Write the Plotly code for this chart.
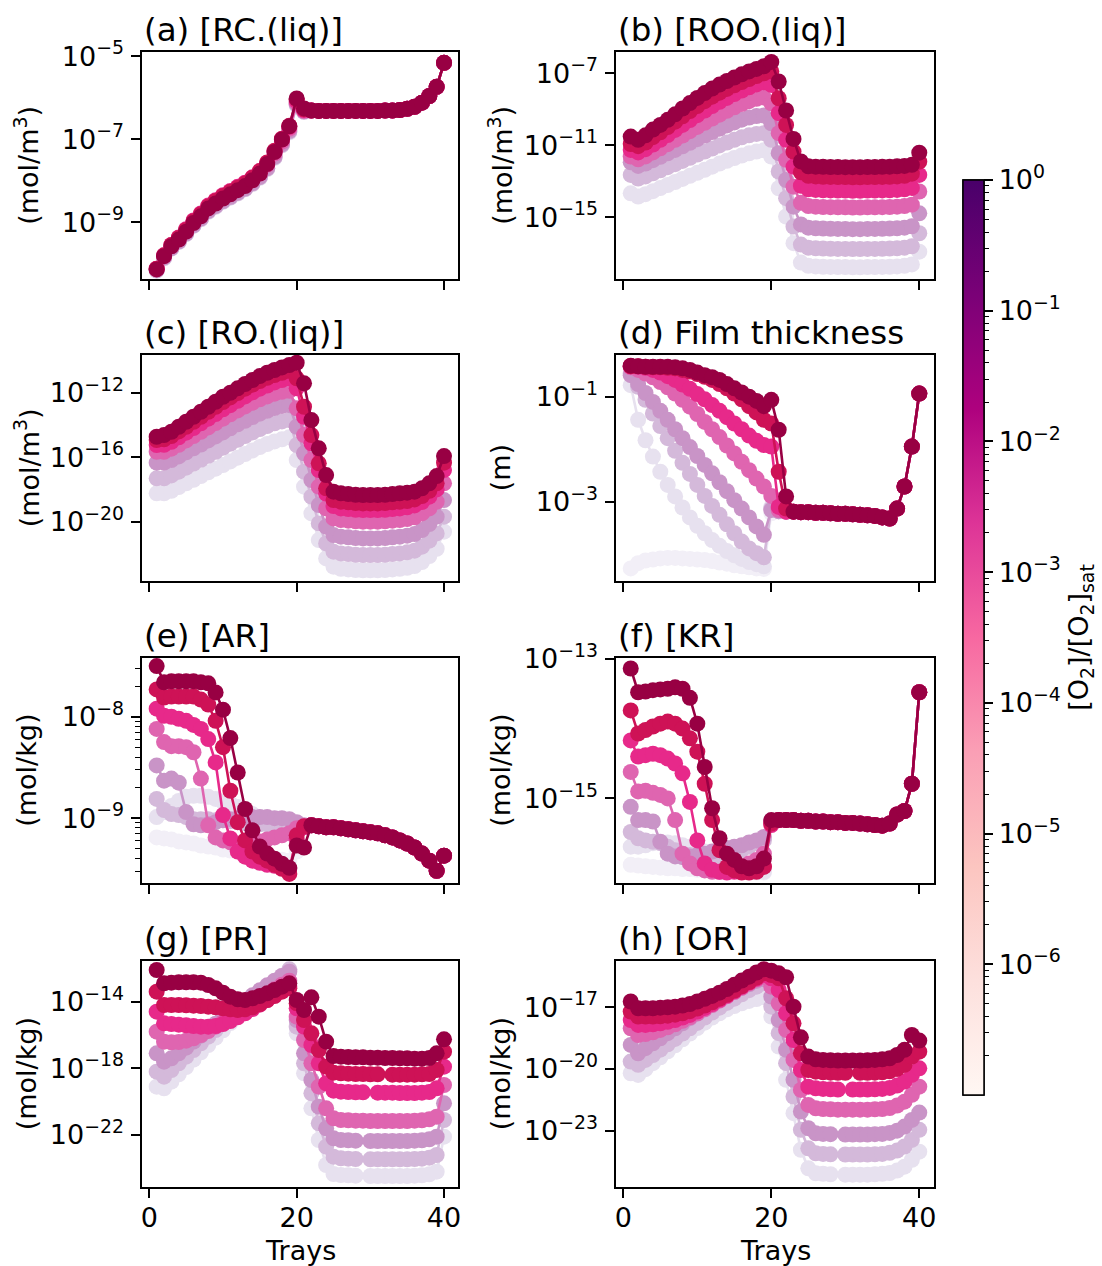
import math
import plotly.graph_objects as go

# ---------------- data (log10 of value), rows ordered [O2]/[O2]sat = 1e-7 ... 1e0 ----------------
TRAYS = list(range(1, 41))
O2_LEVELS = ["1e-7", "1e-6", "1e-5", "1e-4", "1e-3", "1e-2", "1e-1", "1e0"]
LINE_COLORS = ["#f2eff7", "#e7e1ef", "#d4b9da", "#c994c7", "#df65b0", "#e7298a", "#ce1256", "#980043"]

A_TAIL = [-6.31, -6.32, -6.32, -6.32, -6.32, -6.32, -6.32, -6.32, -6.32, -6.32, -6.31, -6.31, -6.30, -6.27, -6.22, -6.12, -5.96, -5.74, -5.16]
RC_LIQ = [
    [-10.17, -9.87, -9.64, -9.48, -9.29, -9.09, -8.93, -8.75, -8.63, -8.51, -8.41, -8.31, -8.21, -8.08, -7.93, -7.72, -7.45, -7.15, -6.84, -6.19, -6.34] + A_TAIL,
    [-10.17, -9.87, -9.64, -9.48, -9.29, -9.09, -8.93, -8.75, -8.63, -8.51, -8.41, -8.31, -8.21, -8.08, -7.93, -7.72, -7.45, -7.15, -6.83, -6.18, -6.34] + A_TAIL,
    [-10.16, -9.86, -9.63, -9.47, -9.28, -9.08, -8.92, -8.74, -8.62, -8.50, -8.40, -8.30, -8.20, -8.07, -7.92, -7.71, -7.44, -7.14, -6.82, -6.17, -6.34] + A_TAIL,
    [-10.15, -9.85, -9.62, -9.46, -9.27, -9.07, -8.91, -8.73, -8.61, -8.49, -8.39, -8.29, -8.19, -8.06, -7.91, -7.70, -7.42, -7.12, -6.80, -6.15, -6.33] + A_TAIL,
    [-10.13, -9.82, -9.58, -9.41, -9.21, -9.00, -8.83, -8.65, -8.53, -8.41, -8.31, -8.21, -8.11, -7.98, -7.83, -7.62, -7.35, -7.06, -6.75, -6.12, -6.32] + A_TAIL,
    [-10.12, -9.80, -9.55, -9.37, -9.17, -8.96, -8.79, -8.60, -8.47, -8.35, -8.25, -8.15, -8.05, -7.92, -7.77, -7.57, -7.30, -7.01, -6.71, -6.08, -6.30] + A_TAIL,
    [-10.12, -9.80, -9.55, -9.38, -9.19, -8.98, -8.81, -8.62, -8.49, -8.37, -8.27, -8.17, -8.07, -7.93, -7.77, -7.56, -7.28, -6.99, -6.68, -6.04, -6.28] + A_TAIL,
    [-10.14, -9.82, -9.58, -9.42, -9.23, -9.02, -8.86, -8.67, -8.55, -8.43, -8.33, -8.23, -8.13, -7.99, -7.83, -7.60, -7.31, -7.01, -6.69, -6.02, -6.26] + A_TAIL,
]

ROO_LIQ = [
    None,
    [-13.67, -13.85, -13.72, -13.55, -13.38, -13.21, -13.04, -12.87, -12.70, -12.53, -12.36, -12.19, -12.02, -11.86, -11.71, -11.57, -11.45, -11.35, -11.28, -11.63,
     -13.39, -14.96, -16.44, -17.52, -17.70, -17.73, -17.75, -17.76, -17.77, -17.77, -17.78, -17.78, -17.77, -17.77, -17.76, -17.75, -17.73, -17.70, -17.62, -16.91],
    [-12.65, -12.85, -12.73, -12.56, -12.39, -12.22, -12.05, -11.87, -11.70, -11.52, -11.35, -11.18, -11.01, -10.85, -10.70, -10.56, -10.45, -10.37, -10.33, -10.70,
     -12.46, -13.94, -15.52, -16.52, -16.69, -16.72, -16.74, -16.75, -16.76, -16.76, -16.77, -16.77, -16.76, -16.76, -16.75, -16.74, -16.72, -16.69, -16.61, -15.89],
    [-11.95, -12.15, -12.02, -11.83, -11.64, -11.45, -11.26, -11.06, -10.86, -10.66, -10.46, -10.27, -10.08, -9.90, -9.73, -9.58, -9.46, -9.38, -9.35, -9.78,
     -11.44, -12.93, -14.41, -15.40, -15.58, -15.61, -15.63, -15.64, -15.65, -15.65, -15.66, -15.66, -15.65, -15.65, -15.64, -15.63, -15.61, -15.58, -15.50, -14.78],
    [-11.63, -11.78, -11.62, -11.40, -11.17, -10.94, -10.70, -10.46, -10.22, -9.98, -9.75, -9.52, -9.30, -9.09, -8.89, -8.71, -8.55, -8.42, -8.35, -8.67,
     -10.33, -11.81, -13.30, -14.20, -14.38, -14.41, -14.43, -14.44, -14.45, -14.45, -14.46, -14.46, -14.45, -14.45, -14.44, -14.43, -14.41, -14.38, -14.30, -13.57],
    [-11.26, -11.40, -11.22, -10.96, -10.70, -10.43, -10.15, -9.87, -9.60, -9.33, -9.07, -8.82, -8.59, -8.37, -8.16, -7.96, -7.78, -7.62, -7.50, -7.65,
     -9.22, -10.70, -12.19, -13.25, -13.45, -13.48, -13.50, -13.51, -13.52, -13.52, -13.53, -13.53, -13.52, -13.52, -13.51, -13.50, -13.48, -13.45, -13.37, -12.65],
    [-10.93, -11.05, -10.85, -10.55, -10.28, -9.99, -9.69, -9.39, -9.10, -8.82, -8.55, -8.30, -8.08, -7.87, -7.67, -7.49, -7.32, -7.16, -7.00, -6.90,
     -8.39, -9.87, -11.35, -12.50, -12.70, -12.73, -12.75, -12.76, -12.77, -12.77, -12.78, -12.78, -12.77, -12.77, -12.76, -12.75, -12.73, -12.70, -12.58, -11.91],
    [-10.52, -10.70, -10.45, -10.13, -9.87, -9.59, -9.28, -8.96, -8.66, -8.37, -8.10, -7.85, -7.63, -7.43, -7.24, -7.06, -6.90, -6.76, -6.61, -6.37,
     -7.46, -9.07, -10.65, -11.90, -12.17, -12.19, -12.20, -12.21, -12.21, -12.22, -12.22, -12.22, -12.21, -12.21, -12.20, -12.19, -12.17, -12.15, -12.09, -11.41],
]

RO_LIQ = [
    None,
    [-18.24, -18.24, -18.08, -17.85, -17.62, -17.40, -17.17, -16.94, -16.71, -16.49, -16.26, -16.03, -15.80, -15.58, -15.37, -15.18, -15.02, -14.89, -14.77, -16.18,
     -17.83, -19.49, -21.14, -22.28, -22.79, -22.92, -22.96, -23.00, -23.02, -23.02, -23.02, -23.00, -22.96, -22.92, -22.86, -22.75, -22.50, -22.13, -21.68, -20.62],
    [-17.31, -17.31, -17.13, -16.90, -16.65, -16.40, -16.16, -15.91, -15.66, -15.41, -15.16, -14.92, -14.69, -14.46, -14.25, -14.07, -13.90, -13.78, -13.70, -15.25,
     -16.90, -18.45, -20.11, -21.35, -21.86, -21.97, -22.01, -22.05, -22.07, -22.07, -22.07, -22.05, -22.01, -21.97, -21.90, -21.80, -21.55, -21.18, -20.73, -19.69],
    [-16.34, -16.34, -16.18, -15.95, -15.70, -15.45, -15.21, -14.96, -14.71, -14.46, -14.21, -13.96, -13.74, -13.51, -13.30, -13.12, -12.95, -12.83, -12.77, -14.11,
     -15.76, -17.42, -18.97, -20.31, -20.83, -20.93, -20.97, -21.02, -21.04, -21.04, -21.04, -21.02, -20.97, -20.93, -20.87, -20.77, -20.52, -20.15, -19.69, -18.66],
    [-15.66, -15.66, -15.47, -15.23, -14.96, -14.69, -14.42, -14.15, -13.88, -13.61, -13.34, -13.10, -12.85, -12.62, -12.41, -12.23, -12.06, -11.94, -11.88, -12.97,
     -14.63, -16.18, -17.83, -19.18, -19.80, -19.90, -19.94, -19.98, -20.00, -20.00, -20.00, -19.98, -19.94, -19.90, -19.84, -19.73, -19.49, -19.18, -18.76, -17.62],
    [-15.25, -15.23, -15.04, -14.77, -14.48, -14.19, -13.90, -13.61, -13.32, -13.03, -12.77, -12.50, -12.23, -11.98, -11.75, -11.55, -11.36, -11.21, -11.11, -11.73,
     -13.49, -15.14, -16.80, -18.25, -19.03, -19.18, -19.22, -19.26, -19.28, -19.28, -19.28, -19.26, -19.22, -19.18, -19.11, -18.99, -18.78, -18.45, -18.00, -16.80],
    [-14.94, -14.89, -14.69, -14.40, -14.11, -13.80, -13.49, -13.18, -12.87, -12.58, -12.29, -12.02, -11.75, -11.50, -11.28, -11.07, -10.90, -10.76, -10.64, -11.11,
     -12.87, -14.63, -16.38, -17.93, -18.66, -18.76, -18.80, -18.84, -18.87, -18.87, -18.87, -18.84, -18.80, -18.76, -18.72, -18.62, -18.41, -18.08, -17.62, -16.34],
    [-14.73, -14.63, -14.42, -14.11, -13.80, -13.49, -13.18, -12.87, -12.56, -12.25, -12.00, -11.73, -11.46, -11.21, -10.97, -10.76, -10.59, -10.43, -10.28, -10.14,
     -11.42, -13.70, -15.45, -17.11, -18.14, -18.24, -18.29, -18.33, -18.35, -18.35, -18.35, -18.33, -18.29, -18.24, -18.20, -18.14, -17.93, -17.62, -17.17, -15.93],
]

D_TAIL = [-3.19, -3.20, -3.20, -3.21, -3.21, -3.22, -3.23, -3.23, -3.24, -3.25, -3.26, -3.27, -3.30, -3.32, -3.13, -2.71, -1.95, -0.94]
FILM = [
    [-4.27, -4.17, -4.12, -4.10, -4.08, -4.07, -4.07, -4.08, -4.09, -4.10, -4.11, -4.13, -4.16, -4.18, -4.21, -4.23, -4.25, -4.27, -4.28, -3.22, -3.19, -3.19] + D_TAIL,
    [-0.78, -1.44, -1.83, -2.14, -2.43, -2.68, -2.90, -3.11, -3.30, -3.46, -3.60, -3.73, -3.84, -3.94, -4.02, -4.09, -4.15, -4.19, -4.23, -3.10, -3.17, -3.19] + D_TAIL,
    [-0.56, -0.81, -1.06, -1.32, -1.56, -1.79, -2.03, -2.26, -2.47, -2.68, -2.89, -3.08, -3.25, -3.43, -3.60, -3.76, -3.89, -3.98, -4.06, -3.13, -3.18, -3.19] + D_TAIL,
    [-0.59, -0.76, -0.93, -1.10, -1.27, -1.44, -1.62, -1.79, -1.96, -2.13, -2.30, -2.46, -2.63, -2.80, -2.97, -3.13, -3.30, -3.47, -3.63, -3.16, -3.18, -3.19] + D_TAIL,
    [-0.44, -0.49, -0.56, -0.63, -0.72, -0.82, -0.94, -1.06, -1.19, -1.33, -1.48, -1.62, -1.77, -1.93, -2.08, -2.24, -2.40, -2.56, -2.71, -2.89, -3.16, -3.19] + D_TAIL,
    [-0.42, -0.43, -0.45, -0.49, -0.54, -0.61, -0.68, -0.77, -0.85, -0.95, -1.05, -1.16, -1.27, -1.39, -1.51, -1.62, -1.74, -1.84, -1.92, -1.95, -3.10, -3.19] + D_TAIL,
    [-0.42, -0.42, -0.43, -0.44, -0.44, -0.45, -0.46, -0.49, -0.52, -0.57, -0.62, -0.68, -0.76, -0.84, -0.94, -1.05, -1.18, -1.30, -1.44, -1.51, -2.43, -3.13] + D_TAIL,
    [-0.41, -0.42, -0.43, -0.43, -0.43, -0.43, -0.44, -0.46, -0.49, -0.54, -0.59, -0.63, -0.68, -0.76, -0.84, -0.92, -1.00, -1.08, -1.18, -1.06, -1.63, -2.90] + D_TAIL,
]

E_TAIL = [-9.07, -9.08, -9.09, -9.09, -9.10, -9.11, -9.12, -9.13, -9.14, -9.15, -9.17, -9.19, -9.22, -9.25, -9.29, -9.35, -9.42, -9.52, -9.37]
AR = [
    [-9.19, -9.20, -9.21, -9.23, -9.24, -9.25, -9.27, -9.28, -9.29, -9.31, -9.32, -9.33, -9.35, -9.36, -9.37, -9.39, -9.40, -9.41, -9.42, -9.33, -9.09] + E_TAIL,
    [-8.99, -8.94, -8.88, -8.83, -8.79, -8.78, -8.78, -8.79, -8.81, -8.84, -8.86, -8.89, -8.92, -8.96, -8.99, -9.02, -9.06, -9.09, -9.12, -9.10, -9.08] + E_TAIL,
    [-8.81, -8.92, -8.96, -8.97, -8.99, -9.01, -9.01, -9.01, -9.02, -9.02, -9.03, -9.04, -9.05, -9.05, -9.06, -9.06, -9.06, -9.07, -9.07, -9.08, -9.08] + E_TAIL,
    [-8.48, -8.63, -8.61, -8.65, -8.94, -9.06, -9.07, -9.06, -9.04, -9.02, -9.01, -9.00, -8.99, -8.99, -8.99, -8.99, -9.00, -9.00, -9.01, -9.04, -9.07] + E_TAIL,
    [-8.12, -8.25, -8.29, -8.29, -8.30, -8.35, -8.61, -9.07, -9.19, -9.22, -9.24, -9.25, -9.25, -9.24, -9.23, -9.21, -9.19, -9.17, -9.15, -9.10, -9.08] + E_TAIL,
    [-7.92, -7.99, -8.00, -8.02, -8.04, -8.08, -8.12, -8.22, -8.45, -8.97, -9.20, -9.33, -9.38, -9.42, -9.44, -9.46, -9.47, -9.48, -9.50, -9.20, -9.09] + E_TAIL,
    [-7.73, -7.81, -7.80, -7.80, -7.80, -7.80, -7.83, -7.88, -8.04, -8.30, -8.73, -9.04, -9.22, -9.33, -9.38, -9.42, -9.46, -9.50, -9.55, -9.17, -9.08] + E_TAIL,
    [-7.50, -7.66, -7.65, -7.65, -7.65, -7.65, -7.66, -7.67, -7.76, -7.93, -8.21, -8.55, -8.91, -9.12, -9.28, -9.35, -9.40, -9.45, -9.49, -9.27, -9.29] + E_TAIL,
]

F_TAIL = [-15.31, -15.31, -15.31, -15.32, -15.32, -15.33, -15.33, -15.34, -15.34, -15.35, -15.35, -15.36, -15.37, -15.38, -15.39, -15.36, -15.23, -15.18, -14.79, -13.48]
KR = [
    [-15.95, -15.96, -15.97, -15.98, -15.99, -16.00, -16.00, -16.01, -16.01, -16.02, -16.02, -16.03, -16.03, -16.04, -16.04, -16.05, -16.05, -16.06, -16.06, -15.38] + F_TAIL,
    [-15.69, -15.69, -15.67, -15.64, -15.63, -15.63, -15.64, -15.67, -15.69, -15.73, -15.76, -15.81, -15.86, -15.90, -15.95, -15.99, -16.01, -16.03, -16.05, -15.36] + F_TAIL,
    [-15.48, -15.57, -15.60, -15.62, -15.64, -15.69, -15.74, -15.79, -15.81, -15.83, -15.84, -15.84, -15.83, -15.81, -15.78, -15.74, -15.69, -15.64, -15.60, -15.33] + F_TAIL,
    [-15.12, -15.31, -15.31, -15.33, -15.62, -15.79, -15.83, -15.84, -15.83, -15.81, -15.79, -15.76, -15.74, -15.71, -15.69, -15.67, -15.63, -15.60, -15.55, -15.32] + F_TAIL,
    [-14.62, -14.90, -14.89, -14.92, -14.95, -15.00, -15.31, -15.79, -15.93, -16.00, -16.03, -16.05, -16.05, -16.02, -16.00, -15.97, -15.93, -15.88, -15.79, -15.33] + F_TAIL,
    [-14.17, -14.40, -14.38, -14.36, -14.38, -14.43, -14.50, -14.64, -15.05, -15.60, -15.93, -16.02, -16.05, -16.06, -16.05, -16.04, -16.02, -16.00, -15.97, -15.38] + F_TAIL,
    [-13.74, -14.07, -14.02, -13.97, -13.93, -13.90, -13.93, -14.00, -14.14, -14.33, -14.79, -15.31, -15.74, -15.98, -16.03, -16.06, -16.06, -16.05, -15.98, -15.36] + F_TAIL,
    [-13.14, -13.48, -13.47, -13.45, -13.44, -13.43, -13.41, -13.43, -13.56, -13.93, -14.55, -15.14, -15.57, -15.79, -15.88, -15.97, -16.00, -15.97, -15.86, -15.31] + F_TAIL,
]

PR = [
    None,
    [-19.10, -19.20, -18.80, -18.36, -17.92, -17.48, -17.04, -16.60, -16.16, -15.72, -15.28, -14.86, -14.44, -14.02, -13.62, -13.22, -12.84, -12.50, -12.14, -15.90,
     -18.30, -20.40, -22.30, -23.80, -24.34, -24.40, -24.42, -24.44, None, -24.46, -24.46, -24.46, -24.46, -24.46, -24.46, -24.44, -24.42, -24.36, -24.20, -22.10],
    [-18.20, -18.50, -18.10, -17.70, -17.30, -16.90, -16.50, -16.10, -15.70, -15.30, -14.90, -14.54, -14.18, -13.82, -13.48, -13.14, -12.80, -12.46, -12.06, -15.50,
     -17.70, -19.50, -21.30, -22.70, -23.30, -23.40, -23.42, -23.44, None, -23.46, -23.46, -23.46, -23.46, -23.46, -23.46, -23.44, -23.42, -23.36, -23.20, -21.10],
    [-17.10, -17.60, -17.40, -17.10, -16.76, -16.40, -16.04, -15.68, -15.32, -14.96, -14.62, -14.28, -13.94, -13.62, -13.32, -13.02, -12.74, -12.46, -12.20, -15.10,
     -17.10, -18.70, -20.30, -21.60, -22.20, -22.30, -22.32, -22.34, None, -22.36, -22.36, -22.36, -22.36, -22.36, -22.36, -22.34, -22.32, -22.26, -22.10, -20.10],
    [-15.80, -16.40, -16.44, -16.42, -16.34, -16.20, -16.00, -15.76, -15.50, -15.22, -14.94, -14.66, -14.38, -14.10, -13.82, -13.54, -13.26, -12.98, -12.74, -14.90,
     -16.30, -17.70, -19.10, -20.40, -21.00, -21.10, -21.12, -21.14, -21.14, -21.16, -21.16, -21.16, -21.16, -21.16, -21.16, -21.14, -21.12, -21.06, -20.90, -19.00],
    [-14.60, -15.30, -15.34, -15.38, -15.42, -15.46, -15.50, -15.50, -15.46, -15.34, -15.16, -14.94, -14.70, -14.44, -14.18, -13.90, -13.62, -13.34, -13.10, -14.40,
     -15.50, -16.60, -17.70, -18.90, -19.34, -19.40, -19.42, -19.44, -19.44, None, -19.46, -19.46, -19.46, -19.48, -19.48, -19.48, -19.46, -19.42, -19.20, -17.90],
    [-13.40, -14.20, -14.20, -14.20, -14.22, -14.24, -14.26, -14.30, -14.34, -14.40, -14.46, -14.50, -14.46, -14.34, -14.14, -13.90, -13.66, -13.40, -13.20, -14.10,
     -15.10, -15.90, -16.90, -17.90, -18.26, -18.30, -18.32, -18.34, -18.34, -18.36, -18.36, None, -18.38, -18.38, -18.38, -18.38, -18.36, -18.34, -18.10, -17.00],
    [-12.10, -12.90, -12.86, -12.84, -12.84, -12.84, -12.86, -13.00, -13.20, -13.46, -13.70, -13.86, -13.90, -13.80, -13.66, -13.50, -13.30, -13.10, -12.90, -13.90,
     -14.50, -13.74, -14.90, -16.40, -17.26, -17.30, -17.32, -17.34, -17.34, -17.36, -17.36, -17.38, -17.38, -17.40, -17.40, -17.42, -17.42, -17.38, -17.10, -16.26],
]

OR = [
    None,
    [-20.21, -20.29, -20.01, -19.72, -19.43, -19.14, -18.85, -18.56, -18.28, -18.01, -17.75, -17.50, -17.29, -17.10, -16.94, -16.81, -16.69, -16.60, -16.51, -17.45,
     -18.91, -20.53, -22.15, -23.93, -24.83, -25.07, -25.10, -25.12, None, -25.14, -25.14, -25.14, -25.14, -25.12, -25.10, -25.06, -24.94, -24.75, -24.42, -24.02],
    [-19.64, -19.80, -19.56, -19.32, -19.06, -18.80, -18.54, -18.28, -18.02, -17.76, -17.50, -17.26, -17.02, -16.79, -16.58, -16.37, -16.17, -16.00, -15.83, -16.97,
     -18.26, -19.72, -21.34, -22.96, -23.86, -24.10, -24.13, -24.15, None, -24.16, -24.16, -24.16, -24.16, -24.15, -24.13, -24.08, -23.97, -23.77, -23.45, -22.96],
    [-18.83, -19.24, -18.99, -18.75, -18.51, -18.26, -18.02, -17.78, -17.53, -17.31, -17.08, -16.86, -16.64, -16.45, -16.26, -16.06, -15.88, -15.72, -15.64, -16.48,
     -17.62, -19.07, -20.53, -22.07, -22.88, -23.13, -23.16, -23.17, None, -23.19, -23.19, -23.19, -23.19, -23.17, -23.16, -23.11, -23.00, -22.80, -22.48, -22.12],
    [-18.02, -18.35, -18.30, -18.22, -18.10, -17.97, -17.83, -17.66, -17.49, -17.29, -17.10, -16.89, -16.68, -16.47, -16.26, -16.05, -15.84, -15.65, -15.52, -16.00,
     -16.81, -18.10, -19.56, -21.02, -21.75, -21.91, -21.95, -21.96, -21.98, -21.98, -21.98, -21.98, -21.98, -21.96, -21.95, -21.90, -21.78, -21.59, -21.26, -20.86],
    [-17.62, -17.86, -17.86, -17.83, -17.78, -17.71, -17.62, -17.50, -17.37, -17.21, -17.03, -16.84, -16.64, -16.43, -16.22, -16.01, -15.80, -15.61, -15.43, -15.59,
     -16.16, -17.29, -18.59, -20.05, -20.86, -20.94, -20.97, -20.99, -21.00, None, -21.00, -21.00, -21.00, -20.99, -20.97, -20.92, -20.81, -20.61, -20.29, -19.97],
    [-17.21, -17.45, -17.45, -17.45, -17.44, -17.41, -17.36, -17.29, -17.19, -17.06, -16.92, -16.76, -16.58, -16.39, -16.19, -15.98, -15.77, -15.56, -15.35, -15.43,
     -15.59, -16.56, -17.78, -19.24, -20.05, -20.13, -20.16, -20.18, -20.19, -20.19, None, -20.19, -20.19, -20.18, -20.16, -20.11, -20.00, -19.80, -19.40, -19.16],
    [-16.72, -17.05, -17.05, -17.05, -17.02, -17.00, -16.97, -16.92, -16.84, -16.72, -16.59, -16.45, -16.29, -16.11, -15.91, -15.70, -15.51, -15.31, -15.15, -15.22,
     -15.35, -15.54, -16.97, -18.46, -19.40, -19.53, -19.56, -19.58, -19.59, -19.59, -19.59, -19.59, -19.58, -19.56, -19.53, -19.48, -19.32, -19.07, -18.35, -18.62],
]

TITLES = ["(a) [RC.(liq)]", "(b) [ROO.(liq)]", "(c) [RO.(liq)]", "(d) Film thickness",
          "(e) [AR]", "(f) [KR]", "(g) [PR]", "(h) [OR]"]
YLABELS = ["(mol/m<sup>3</sup>)", "(mol/m<sup>3</sup>)", "(mol/m<sup>3</sup>)", "(m)",
           "(mol/kg)", "(mol/kg)", "(mol/kg)", "(mol/kg)"]
Y_TICK_EXPS = [[-9, -7, -5], [-15, -11, -7], [-20, -16, -12], [-3, -1],
               [-9, -8], [-15, -13], [-22, -18, -14], [-23, -20, -17]]
Y_RANGES = [[-10.37, -4.90], [-18.43, -5.82], [-23.68, -9.66], [-4.51, -0.206],
            [-9.64, -7.42], [-16.21, -12.99], [-25.12, -11.56], [-25.74, -14.75]]
X_TICKS = [0, 20, 40]
CB_TICK_EXPS = [-6, -5, -4, -3, -2, -1, 0]

PANELS = [RC_LIQ, ROO_LIQ, RO_LIQ, FILM, AR, KR, PR, OR]

# ---------------- layout geometry ----------------
W, H = 1102, 1266
COL_X = [(142.3, 458.4), (616.3, 933.7)]
ROW_Y = [(52, 279), (355, 581), (658, 883), (961, 1187)]
FONT = "DejaVu Sans"
TICK_SIZE = 27
TITLE_SIZE = 32.5


def sup(e):
    s = str(e).replace("-", "\u2212")
    return "10<sup>" + s + "</sup>"


for rows in PANELS:
    for r in rows:
        if r is not None:
            assert len(r) == 40, len(r)

fig = go.Figure()
layout = dict(width=W, height=H, margin=dict(l=0, r=0, t=0, b=0, autoexpand=False),
              plot_bgcolor="white", paper_bgcolor="white", showlegend=False,
              font=dict(family=FONT, size=TICK_SIZE, color="black"))
annotations = []

for i, rows in enumerate(PANELS):
    r, c = divmod(i, 2)
    sfx = "" if i == 0 else str(i + 1)
    x0, x1 = COL_X[c]
    y0, y1 = ROW_Y[r]
    for k, row in enumerate(rows):
        if row is None:
            continue
        yv = [None if v is None else 10 ** v for v in row]
        fig.add_trace(go.Scatter(
            x=TRAYS, y=yv, mode="lines+markers", connectgaps=True,
            line=dict(color=LINE_COLORS[k], width=2.6),
            marker=dict(color=LINE_COLORS[k], size=16),
            name=O2_LEVELS[k], xaxis="x" + sfx, yaxis="y" + sfx, hoverinfo="skip"))
    axis_common = dict(showline=True, mirror=True, linecolor="black", linewidth=1.8,
                       ticks="outside", ticklen=9, tickwidth=1.8, tickcolor="black",
                       showgrid=False, zeroline=False,
                       tickfont=dict(family=FONT, size=TICK_SIZE, color="black"))
    layout["xaxis" + sfx] = dict(axis_common, domain=[x0 / W, x1 / W], range=[-0.95, 41.95],
                                 anchor="y" + sfx, tickmode="array", tickvals=X_TICKS,
                                 showticklabels=(r == 3), ticklabelstandoff=-3)
    exps = Y_TICK_EXPS[i]
    yax = dict(axis_common, domain=[1 - y1 / H, 1 - y0 / H], type="log", range=Y_RANGES[i],
               anchor="x" + sfx, tickmode="array", tickvals=[10.0 ** e for e in exps],
               ticktext=[sup(e) for e in exps], ticklabelstandoff=2)
    if i == 4:
        minor_vals = []
        for dec in (-10, -9, -8):
            for m in range(2, 10):
                minor_vals.append(m * 10.0 ** dec)
        yax["minor"] = dict(tickmode="array", tickvals=minor_vals, ticks="outside",
                            ticklen=5, tickwidth=1.4, tickcolor="black", showgrid=False)
    layout["yaxis" + sfx] = yax
    annotations.append(dict(text=TITLES[i], xref="paper", yref="paper", x=x0 / W, y=1 - y0 / H,
                            xanchor="left", yanchor="bottom", yshift=1, showarrow=False,
                            font=dict(family=FONT, size=TITLE_SIZE, color="black")))
    annotations.append(dict(text=YLABELS[i], xref="paper", yref="paper", x=(x0 - 116) / W,
                            y=1 - (y0 + y1) / 2 / H, xanchor="center", yanchor="middle",
                            textangle=-90, showarrow=False,
                            font=dict(family=FONT, size=TICK_SIZE, color="black")))
    if r == 3:
        annotations.append(dict(text="Trays", xref="paper", yref="paper", x=(x0 + x1) / 2 / W,
                                y=1 - 1250 / H, xanchor="center", yanchor="middle",
                                showarrow=False, font=dict(family=FONT, size=TICK_SIZE, color="black")))

# ---------------- colour bar (log10 of [O2]/[O2]sat) ----------------
CB_X0, CB_TOP, CB_BOT, CB_THICK = 963, 180, 1095, 21
cb_common = dict(x=CB_X0 / W, xanchor="left", xpad=0, ypad=0, thickness=CB_THICK,
                 len=(CB_BOT - CB_TOP) / H, lenmode="fraction", y=1 - (CB_TOP + CB_BOT) / 2 / H,
                 yanchor="middle", outlinewidth=1.5, outlinecolor="black")
minor_cb = [dec + math.log10(m) for dec in range(-7, 0) for m in range(2, 10)]
fig.add_trace(go.Scatter(
    x=[20], y=[1e-8], mode="markers", xaxis="x", yaxis="y", hoverinfo="skip",
    marker=dict(color=[-3], colorscale="RdPu", cmin=-7, cmax=0, opacity=0, showscale=True,
                colorbar=dict(cb_common, tickmode="array", tickvals=minor_cb, ticktext=[""] * len(minor_cb),
                              ticks="outside", ticklen=5, tickwidth=1.4, tickcolor="black",
                              showticklabels=False))))
fig.add_trace(go.Scatter(
    x=[20], y=[1e-8], mode="markers", xaxis="x", yaxis="y", hoverinfo="skip",
    marker=dict(color=[-3], colorscale="RdPu", cmin=-7, cmax=0, opacity=0, showscale=True,
                colorbar=dict(cb_common, tickmode="array", tickvals=CB_TICK_EXPS,
                              ticktext=[sup(e) for e in CB_TICK_EXPS],
                              ticks="outside", ticklen=9, tickwidth=1.8, tickcolor="black",
                              tickfont=dict(family=FONT, size=TICK_SIZE, color="black"),
                              title=dict(text="[O<sub>2</sub>]/[O<sub>2</sub>]<sub>sat</sub>", side="right",
                                         font=dict(family=FONT, size=TICK_SIZE, color="black"))))))

layout["annotations"] = annotations
fig.update_layout(**layout)
fig.write_html("out.html", config={"displayModeBar": False},
               post_script="document.body.style.margin='0';document.body.style.overflow='hidden';")
